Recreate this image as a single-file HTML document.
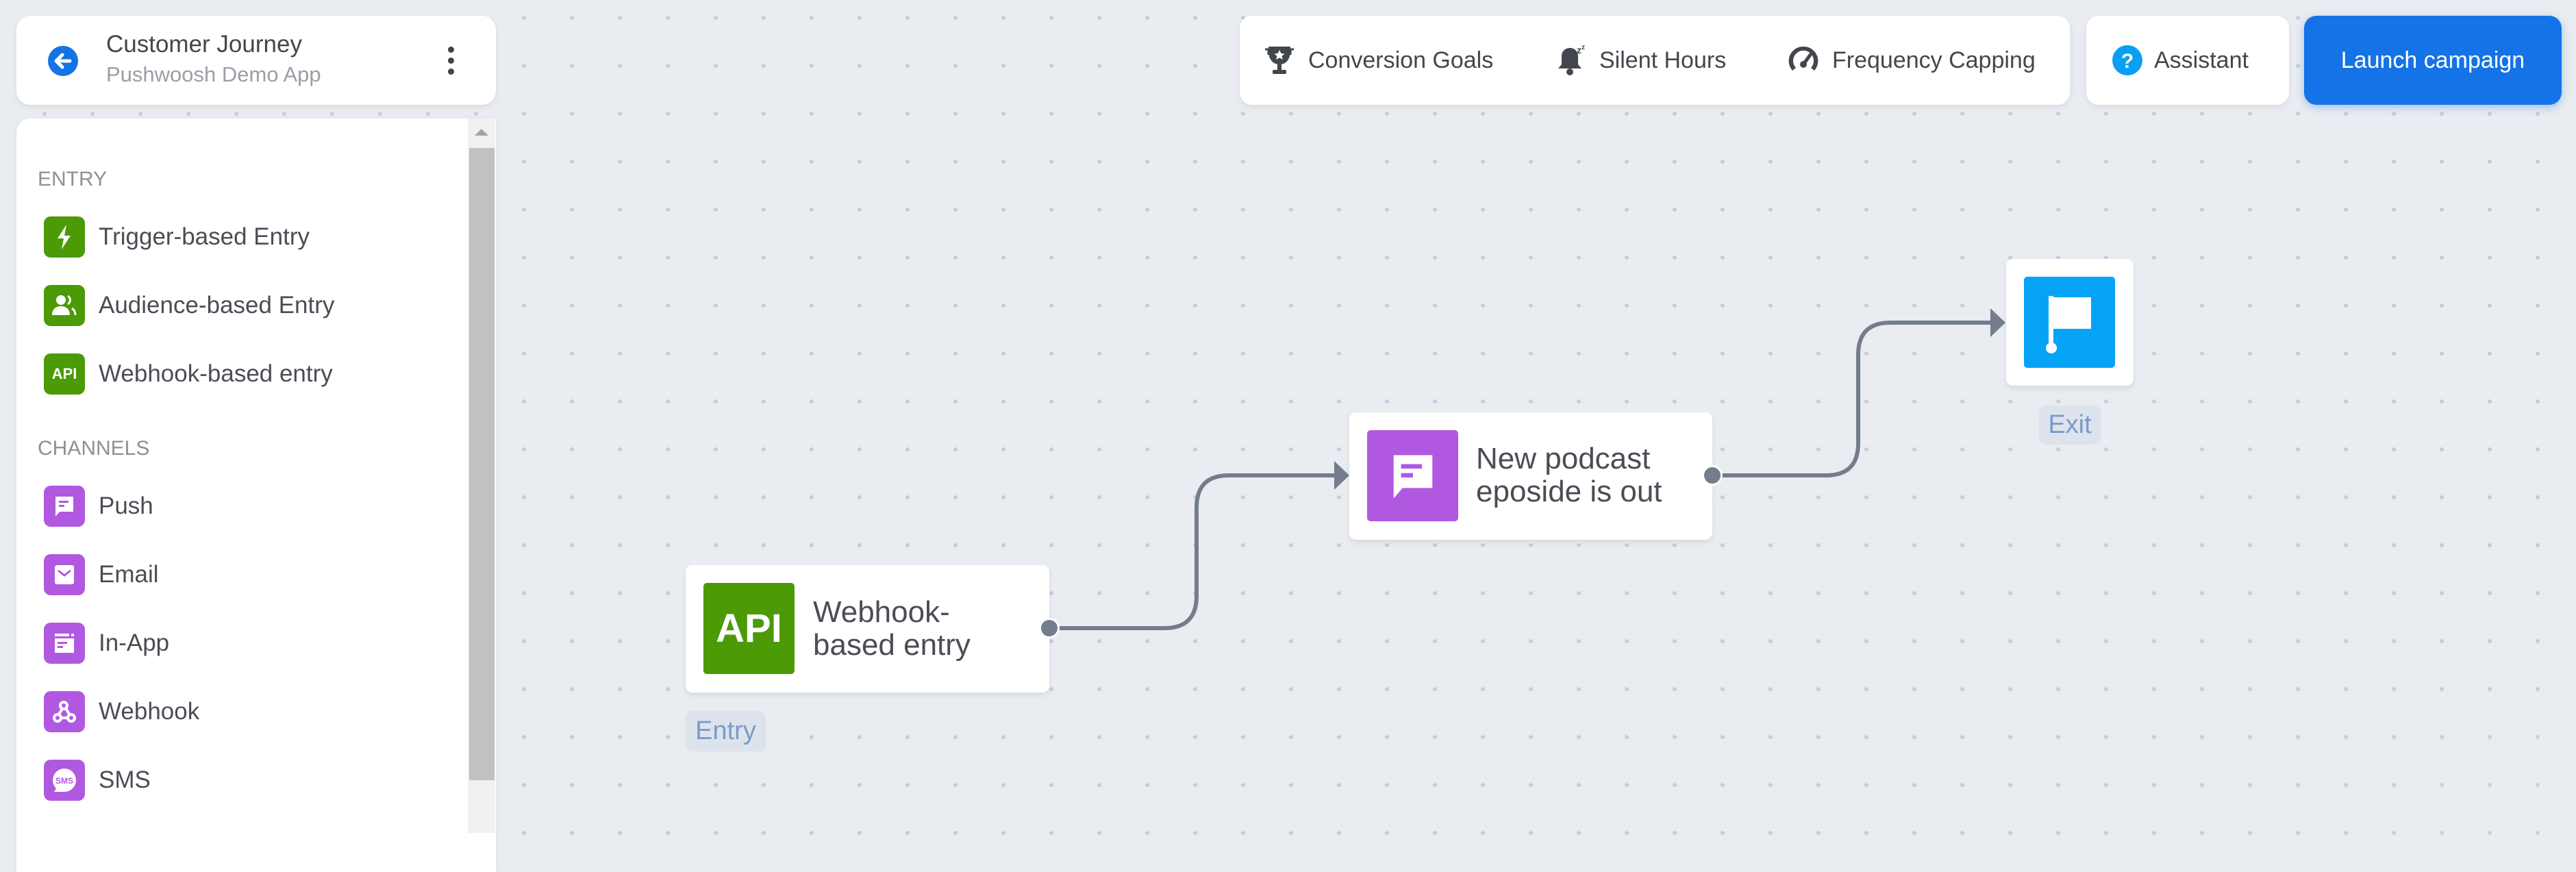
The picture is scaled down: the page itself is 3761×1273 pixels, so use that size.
<!DOCTYPE html>
<html><head><meta charset="utf-8"><style>
*{margin:0;padding:0;box-sizing:border-box}
body{width:3761px;height:1216px;overflow:hidden;position:relative;background-color:#e9ecf0;
background-image:radial-gradient(circle,#c3cddb 2.6px,transparent 3.2px);background-size:70px 70px;background-position:30px -9px;
font-family:"Liberation Sans",sans-serif;color:#4a4d55}
.abs{position:absolute}
.card{position:absolute;background:#fff;border-radius:20px;box-shadow:0 3px 10px rgba(0,0,0,.07)}
.item{position:absolute;left:64px;height:60px;display:flex;align-items:center}
.ic{width:60px;height:60px;border-radius:10px;display:flex;align-items:center;justify-content:center;margin-right:20px}
.g{background:#4b9a06}.p{background:#b158e0}
.item span{font-size:35px;color:#4a4d55}
.sec{position:absolute;left:55px;font-size:30px;color:#8c9199}
.tb{position:absolute;top:64px;font-size:34px;color:#43464d;display:flex;align-items:center}
.node{position:absolute;background:#fff;border-radius:10px;box-shadow:0 4px 8px rgba(0,0,0,.08)}
.lbl{position:absolute;background:#dde3ec;border-radius:10px;color:#7a9cc8;font-size:38px;display:flex;align-items:center;justify-content:center}
.nt{position:absolute;font-size:44px;line-height:48px;color:#4a4d55}
</style></head><body>

<!-- header card -->
<div class="card" style="left:24px;top:23px;width:700px;height:130px">
  <svg class="abs" style="left:45px;top:43px" width="46" height="46" viewBox="0 0 46 46"><circle cx="23" cy="23" r="22" fill="#1473e6"/><path d="M33 23H14M22 14l-9 9 9 9" stroke="#fff" stroke-width="5" fill="none" stroke-linecap="round" stroke-linejoin="round"/></svg>
  <div class="abs" style="left:131px;top:22px;font-size:35px;color:#43464d">Customer Journey</div>
  <div class="abs" style="left:131px;top:68px;font-size:31px;color:#9a9ea6">Pushwoosh Demo App</div>
  <div class="abs" style="left:630px;top:45px;width:10px">
    <div style="width:9px;height:9px;border-radius:50%;background:#3f434a;margin-bottom:7px"></div>
    <div style="width:9px;height:9px;border-radius:50%;background:#3f434a;margin-bottom:7px"></div>
    <div style="width:9px;height:9px;border-radius:50%;background:#3f434a"></div>
  </div>
</div>

<!-- sidebar -->
<div class="abs" style="left:24px;top:173px;width:700px;height:1100px;background:#fff;border-radius:20px 0 0 0;box-shadow:0 3px 10px rgba(0,0,0,.06)"></div>
<div class="abs" style="left:683px;top:173px;width:40px;height:1043px;background:#f1f1f1"></div>
<div class="abs" style="left:685px;top:216px;width:37px;height:923px;background:#c1c1c1"></div>
<div class="abs" style="left:693px;top:188px;width:0;height:0;border-left:10px solid transparent;border-right:10px solid transparent;border-bottom:10px solid #a3a3a3"></div>

<div class="sec" style="top:245px">ENTRY</div>
<div class="item" style="top:316px"><div class="ic g"><svg width="30" height="40" viewBox="0 0 30 40"><path d="M18 2L5 22h9l-3 16 13-20h-9z" fill="#fff"/></svg></div><span>Trigger-based Entry</span></div>
<div class="item" style="top:416px"><div class="ic g"><svg width="40" height="36" viewBox="0 0 40 36"><circle cx="15" cy="10" r="7" fill="#fff"/><path d="M2 32c0-9 6-13 13-13s13 4 13 13z" fill="#fff"/><path d="M25 4a7 7 0 010 12M31 22c3 2 5 5 5 10" stroke="#fff" stroke-width="3" fill="none"/></svg></div><span>Audience-based Entry</span></div>
<div class="item" style="top:516px"><div class="ic g"><span style="color:#fff;font-weight:bold;font-size:22px">API</span></div><span>Webhook-based entry</span></div>

<div class="sec" style="top:638px">CHANNELS</div>
<div class="item" style="top:709px"><div class="ic p"><svg width="32" height="34" viewBox="0 0 32 34"><path d="M3 3h26v22H9l-6 7z" fill="#fff"/><rect x="8" y="9" width="14" height="3" fill="#b158e0"/><rect x="8" y="15" width="8" height="3" fill="#b158e0"/></svg></div><span>Push</span></div>
<div class="item" style="top:809px"><div class="ic p"><svg width="30" height="30" viewBox="0 0 30 30"><rect x="1" y="1" width="28" height="28" rx="3" fill="#fff"/><path d="M6 9l9 7 9-7" stroke="#b158e0" stroke-width="3" fill="none"/></svg></div><span>Email</span></div>
<div class="item" style="top:909px"><div class="ic p"><svg width="30" height="30" viewBox="0 0 30 30"><rect x="1" y="1" width="21" height="4" fill="#fff"/><rect x="25" y="1" width="4" height="4" fill="#fff"/><rect x="1" y="8" width="28" height="21" fill="#fff"/><rect x="5" y="13" width="14" height="3" fill="#b158e0"/><rect x="5" y="19" width="8" height="3" fill="#b158e0"/></svg></div><span>In-App</span></div>
<div class="item" style="top:1009px"><div class="ic p"><svg width="36" height="36" viewBox="0 0 36 36"><g stroke="#fff" stroke-width="4" fill="none"><circle cx="17" cy="9" r="5"/><circle cx="8" cy="27" r="5"/><circle cx="28" cy="27" r="5"/><path d="M15 14l-6 9M13 27h10M20 13l6 10"/></g></svg></div><span>Webhook</span></div>
<div class="item" style="top:1109px"><div class="ic p"><svg width="38" height="38" viewBox="0 0 38 38"><path d="M19 2a17 17 0 110 34H4l3-5A17 17 0 0119 2z" fill="#fff"/><text x="19" y="24" font-size="12" font-weight="bold" fill="#b158e0" text-anchor="middle" font-family="Liberation Sans">SMS</text></svg></div><span>SMS</span></div>

<!-- top bar -->
<div class="card" style="left:1810px;top:23px;width:1212px;height:130px;border-radius:18px"></div>
<div class="tb" style="left:1844px;height:48px"><svg width="48" height="48" viewBox="0 0 48 48"><path d="M8 4h32v6c0 12-6 20-16 20S8 22 8 10z" fill="#43464d"/><path d="M3 8h5v8M45 8h-5v8" stroke="#43464d" stroke-width="3" fill="none"/><rect x="21" y="29" width="6" height="10" fill="#43464d"/><rect x="14" y="38" width="20" height="6" rx="2" fill="#43464d"/><path d="M24 9l2.5 5 5 .5-4 3.5 1.3 5-4.8-2.8-4.8 2.8 1.3-5-4-3.5 5-.5z" fill="#fff"/></svg><span style="margin-left:18px">Conversion Goals</span></div>
<div class="tb" style="left:2272px;height:48px"><svg width="46" height="48" viewBox="0 0 46 48"><path d="M20 6c-7 0-12 5-12 12v12l-5 6h34l-5-6V18c0-7-5-12-12-12z" fill="#43464d"/><circle cx="20" cy="41" r="5" fill="#43464d"/><text x="30" y="14" font-size="14" font-weight="bold" fill="#43464d" font-family="Liberation Sans">z</text><text x="37" y="8" font-size="10" font-weight="bold" fill="#43464d" font-family="Liberation Sans">z</text></svg><span style="margin-left:17px">Silent Hours</span></div>
<div class="tb" style="left:2608px;height:48px"><svg width="50" height="48" viewBox="0 0 50 48"><path d="M25 4a21 21 0 00-16 35l5-4a15 15 0 1122 0l5 4A21 21 0 0025 4z" fill="#43464d"/><path d="M25 30l10-14" stroke="#43464d" stroke-width="5" stroke-linecap="round"/><circle cx="25" cy="30" r="5" fill="#43464d"/></svg><span style="margin-left:17px">Frequency Capping</span></div>

<div class="card" style="left:3046px;top:23px;width:296px;height:130px;border-radius:18px"></div>
<div class="tb" style="left:3084px;height:48px"><svg width="44" height="44" viewBox="0 0 44 44"><circle cx="22" cy="22" r="22" fill="#09a0f3"/><text x="22" y="33" font-size="30" font-weight="bold" fill="#fff" text-anchor="middle" font-family="Liberation Sans">?</text></svg><span style="margin-left:17px">Assistant</span></div>

<div class="abs" style="left:3364px;top:23px;width:376px;height:130px;background:#1473e6;border-radius:18px;box-shadow:0 4px 12px rgba(20,115,230,.35);color:#fff;font-size:34px;display:flex;align-items:center;justify-content:center">Launch campaign</div>

<!-- connectors -->
<svg class="abs" style="left:0;top:0" width="3761" height="1216">
  <g stroke="#737d8c" stroke-width="6" fill="none">
    <path d="M1540 917 H1700 Q1747 917 1747 870 V741 Q1747 694 1794 694 H1950"/>
    <path d="M2508 694 H2666 Q2713 694 2713 647 V518 Q2713 471 2760 471 H2910"/>
  </g>
  <path d="M1948 673 L1970 694 L1948 715 Z" fill="#737d8c"/>
  <path d="M2906 450 L2928 471 L2906 492 Z" fill="#737d8c"/>
</svg>

<!-- nodes -->
<div class="node" style="left:1001px;top:825px;width:531px;height:186px"></div>
<div class="abs" style="left:1027px;top:851px;width:133px;height:133px;background:#4b9a06;border-radius:5px;color:#fff;font-weight:bold;font-size:58px;display:flex;align-items:center;justify-content:center">API</div>
<div class="nt" style="left:1187px;top:870px">Webhook-<br>based entry</div>
<div class="abs" style="left:1520px;top:905px;width:24px;height:24px;border-radius:50%;background:#737d8c;border:3px solid #fff;box-sizing:content-box;margin:-3px"></div>
<div class="lbl" style="left:1001px;top:1038px;width:117px;height:59px">Entry</div>

<div class="node" style="left:1970px;top:602px;width:530px;height:186px"></div>
<div class="abs" style="left:1996px;top:628px;width:133px;height:133px;background:#b158e0;border-radius:5px;display:flex;align-items:center;justify-content:center"><svg width="72" height="74" viewBox="0 0 32 34"><path d="M3 3h26v22H9l-6 7z" fill="#fff"/><rect x="8" y="9" width="14" height="3" fill="#b158e0"/><rect x="8" y="15" width="8" height="3" fill="#b158e0"/></svg></div>
<div class="nt" style="left:2155px;top:646px">New podcast<br>eposide is out</div>
<div class="abs" style="left:2488px;top:682px;width:24px;height:24px;border-radius:50%;background:#737d8c;border:3px solid #fff;box-sizing:content-box;margin:-3px"></div>

<div class="node" style="left:2929px;top:378px;width:186px;height:185px"></div>
<div class="abs" style="left:2955px;top:404px;width:133px;height:133px;background:#05a3f6;border-radius:5px"><svg width="133" height="133" viewBox="0 0 133 133"><rect x="36" y="28" width="7" height="80" fill="#fff"/><rect x="40" y="30" width="58" height="46" fill="#fff"/><circle cx="40" cy="104" r="8" fill="#fff"/></svg></div>
<div class="lbl" style="left:2977px;top:592px;width:90px;height:57px">Exit</div>

</body></html>
